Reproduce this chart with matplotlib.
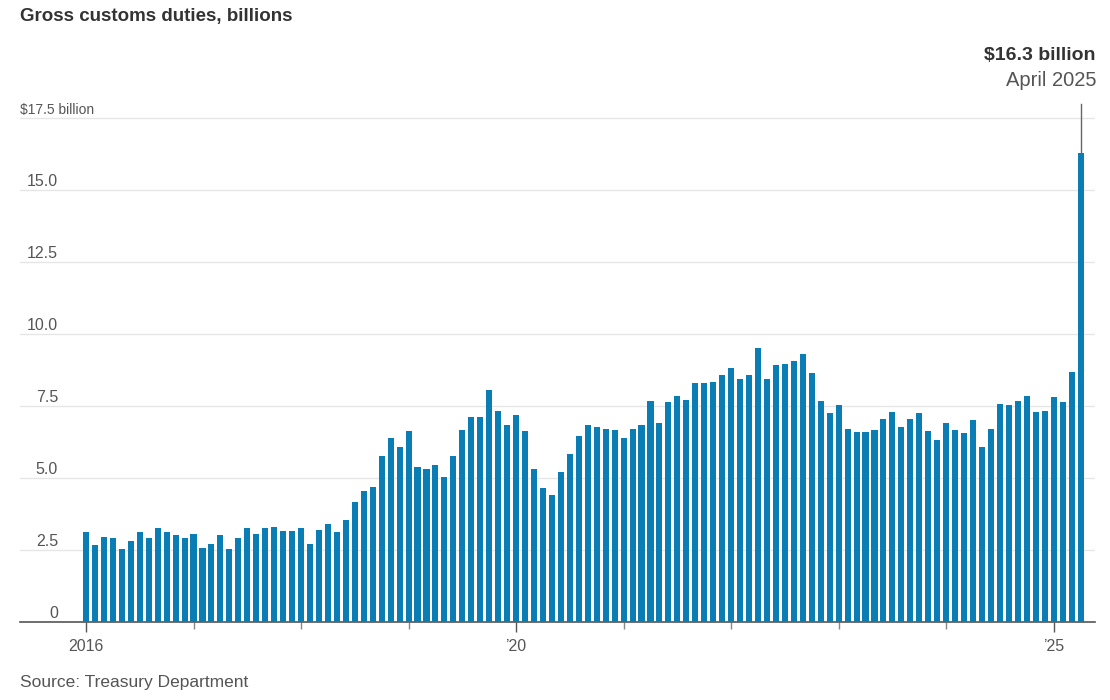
import numpy as np
import matplotlib
matplotlib.use('Agg')
import matplotlib.pyplot as plt
from matplotlib import font_manager

# monthly gross customs duties, billions, Jan 2016 .. Apr 2025
duties = [
    3.11, 2.67, 2.96, 2.90, 2.53, 2.82, 3.11, 2.90, 3.25, 3.11, 3.01, 2.90,  # 2016
    3.06, 2.58, 2.72, 3.01, 2.53, 2.90, 3.25, 3.06, 3.25, 3.29, 3.16, 3.16,  # 2017
    3.25, 2.72, 3.21, 3.39, 3.11, 3.54, 4.17, 4.55, 4.69, 5.75, 6.38, 6.09,  # 2018
    6.62, 5.37, 5.32, 5.46, 5.03, 5.75, 6.67, 7.13, 7.11, 8.06, 7.34, 6.85,  # 2019
    7.18, 6.62, 5.32, 4.64, 4.41, 5.22, 5.84, 6.47, 6.85, 6.76, 6.71, 6.67,  # 2020
    6.38, 6.71, 6.85, 7.67, 6.90, 7.63, 7.86, 7.72, 8.30, 8.30, 8.34, 8.59,  # 2021
    8.82, 8.45, 8.59, 9.50, 8.45, 8.92, 8.97, 9.06, 9.31, 8.63, 7.67, 7.25,  # 2022
    7.53, 6.71, 6.61, 6.61, 6.67, 7.05, 7.29, 6.76, 7.05, 7.25, 6.62, 6.33,  # 2023
    6.91, 6.67, 6.56, 7.00, 6.09, 6.71, 7.58, 7.53, 7.67, 7.86, 7.29, 7.34,  # 2024
    7.81, 7.63, 8.68, 16.3,                                                  # 2025
]
y_ticks = [0, 2.5, 5.0, 7.5, 10.0, 12.5, 15.0, 17.5]
year_labels = {2016: '2016', 2020: '\u201920', 2025: '\u201925'}
first_year = 2016

title = 'Gross customs duties, billions'
source = 'Source: Treasury Department'
peak_label = '$16.3 billion'
peak_date = 'April 2025'

avail = {f.name for f in font_manager.fontManager.ttflist}
fam = 'Liberation Sans Narrow' if 'Liberation Sans Narrow' in avail else 'Liberation Sans'
plt.rcParams['font.family'] = [fam, 'DejaVu Sans']

bar_color = '#0a7db5'
grid_color = '#e6e6e6'
text_gray = '#555555'

W, H = 1110, 700
fig = plt.figure(figsize=(W / 100, H / 100), dpi=100)

px_month = 8.96
x0_px = 86
left_px, right_px = 20, 1095
base_px = 622
px_unit = 28.8
ymax = 18.0

ax = fig.add_axes([left_px / W, (H - base_px) / H, (right_px - left_px) / W,
                   ymax * px_unit / H])
n = len(duties)
x = np.arange(n)
ax.bar(x, duties, width=0.68, color=bar_color, zorder=3)
xl = -(x0_px - left_px) / px_month
ax.set_xlim(xl, xl + (right_px - left_px) / px_month)
ax.set_ylim(0, ymax)

for s in ['top', 'right', 'left']:
    ax.spines[s].set_visible(False)
ax.spines['bottom'].set_color('#555555')
ax.spines['bottom'].set_linewidth(1.2)

ax.set_yticks(y_ticks)
ax.yaxis.grid(True, color=grid_color, linewidth=1.0, zorder=0)
ax.tick_params(axis='y', length=0, labelleft=False)

for v in y_ticks:
    if v == y_ticks[-1]:
        ax.text(0, v + 0.04, '$%.1f billion' % v, transform=ax.get_yaxis_transform(),
                ha='left', va='bottom', fontsize=10, color=text_gray)
    else:
        lab = '0' if v == 0 else '%.1f' % v
        ax.text(38 / (right_px - left_px), v + 0.04, lab, transform=ax.get_yaxis_transform(),
                ha='right', va='bottom', fontsize=11.5, color=text_gray)

n_years = (n + 11) // 12
year_pos = [12 * i for i in range(n_years)]
major = [12 * (y - first_year) for y in year_labels]
minor = [p for p in year_pos if p not in major]
ax.set_xticks(major)
ax.set_xticklabels(list(year_labels.values()))
ax.set_xticks(minor, minor=True)
ax.tick_params(axis='x', which='major', length=7, width=1, color='#555555',
               labelsize=11.5, labelcolor=text_gray, pad=5)
ax.tick_params(axis='x', which='minor', length=5, width=1, color='#888888')

# annotation for the last month
last = n - 1
ax.plot([last, last], [duties[last], 18.0], color='#666666', linewidth=1.0,
        clip_on=False, zorder=4)
fig.text(1096 / W, 1 - 55 / H, peak_label, ha='right', va='center',
         fontsize=14, fontweight='bold', color='#333333')
fig.text(1096 / W, 1 - 80 / H, peak_date, ha='right', va='center',
         fontsize=14.5, color=text_gray)

fig.text(20 / W, 1 - 16 / H, title, ha='left', va='center', fontsize=13.5,
         fontweight='bold', color='#333333')
fig.text(20 / W, 1 - 683 / H, source, ha='left', va='center', fontsize=12.5,
         color=text_gray)

fig.savefig('out.png', dpi=100)
